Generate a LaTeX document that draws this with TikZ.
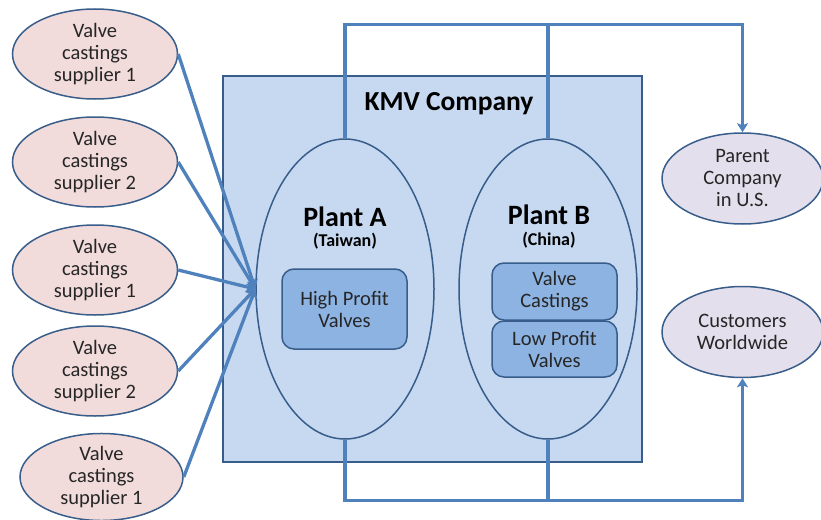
\documentclass[tikz,border=0pt]{standalone}
\usepackage{fontspec}
\setmainfont{Carlito}
\usetikzlibrary{arrows.meta}
\usetikzlibrary{shapes.geometric}

\definecolor{flowblue}{HTML}{4F81BD}
\definecolor{edgeblue}{HTML}{385D8A}
\definecolor{supplierpink}{HTML}{F2DCDB}
\definecolor{companyblue}{HTML}{C6D9F1}
\definecolor{partblue}{HTML}{8DB3E2}
\definecolor{clientlilac}{HTML}{E4DFEC}

\tikzset{
  bodytext/.style={font=\fontsize{20.5}{22}\selectfont,align=center,text=black!85},
  supplier/.style={ellipse,draw=edgeblue,line width=1.5pt,fill=supplierpink,minimum width=165pt,minimum height=90pt,inner sep=0pt,bodytext},
  client/.style={ellipse,draw=edgeblue,line width=1.5pt,fill=clientlilac,minimum width=161pt,minimum height=91pt,inner sep=0pt,bodytext},
  plant/.style={ellipse,draw=edgeblue,line width=1.5pt,fill=companyblue,minimum width=178pt,minimum height=300pt,inner sep=0pt},
  part/.style={rectangle,rounded corners=12pt,draw=edgeblue,line width=1.5pt,fill=partblue,minimum width=125pt,inner sep=0pt,bodytext},
  flow/.style={draw=flowblue,line width=3.3pt},
  flowtip/.style={-{Stealth[length=9pt,width=11pt,inset=2pt]}}
}

\begin{document}
\begin{tikzpicture}[x=1pt,y=-1pt]
\useasboundingbox (0,0) rectangle (821,519);
% company frame
\node (kmv) [rectangle,draw=edgeblue,line width=1.5pt,fill=companyblue,minimum width=419pt,minimum height=386pt,inner sep=0pt] at (432.5,269) {};
\node (kmvname) at (449,104) {\fontsize{27.5}{30}\selectfont\bfseries KMV Company};
% plants
\node (pa) [plant] at (345,289) {};
\node (pb) [plant] at (548,289) {};
\node (paname) at (345,217) {\fontsize{28}{30}\selectfont\bfseries Plant A};
\node (paplace) at (345,241) {\fontsize{18}{20}\selectfont\bfseries (Taiwan)};
\node (pbname) at (549,215) {\fontsize{28}{30}\selectfont\bfseries Plant B};
\node (pbplace) at (549,240) {\fontsize{18}{20}\selectfont\bfseries (China)};
\node (high) [part,minimum height=80pt] at (344.5,309) {High Profit\\Valves};
\node (cast) [part,minimum height=57pt] at (554.5,291.5) {Valve\\Castings};
\node (low) [part,minimum height=56pt] at (554.5,349) {Low Profit\\Valves};
% suppliers
\node (s1) [supplier] at (95,54) {Valve\\castings\\supplier 1};
\node (s2) [supplier] at (95,162) {Valve\\castings\\supplier 2};
\node (s3) [supplier] at (95,270) {Valve\\castings\\supplier 1};
\node (s4) [supplier] at (95,371) {Valve\\castings\\supplier 2};
\node (s5) [supplier,minimum width=163pt,minimum height=86pt] at (101.5,477) {Valve\\castings\\supplier 1};
% parent and customers
\node (parent) [client] at (742.5,178.5) {Parent\\Company\\in U.S.};
\node (cust) [client] at (742.5,332) {Customers\\Worldwide};
% connectors
\foreach \s in {s1,s2,s3,s4,s5}
  \draw[flow,flowtip] (\s.east) -- (pa.west);
\draw[flow,flowtip] (pa.north) -- ++(0,-114) -| (parent.north);
\draw[flow] (pb.north) -- ++(0,-114);
\draw[flow,flowtip] (pa.south) -- ++(0,61) -| (cust.south);
\draw[flow] (pb.south) -- ++(0,61);
\end{tikzpicture}
\end{document}
